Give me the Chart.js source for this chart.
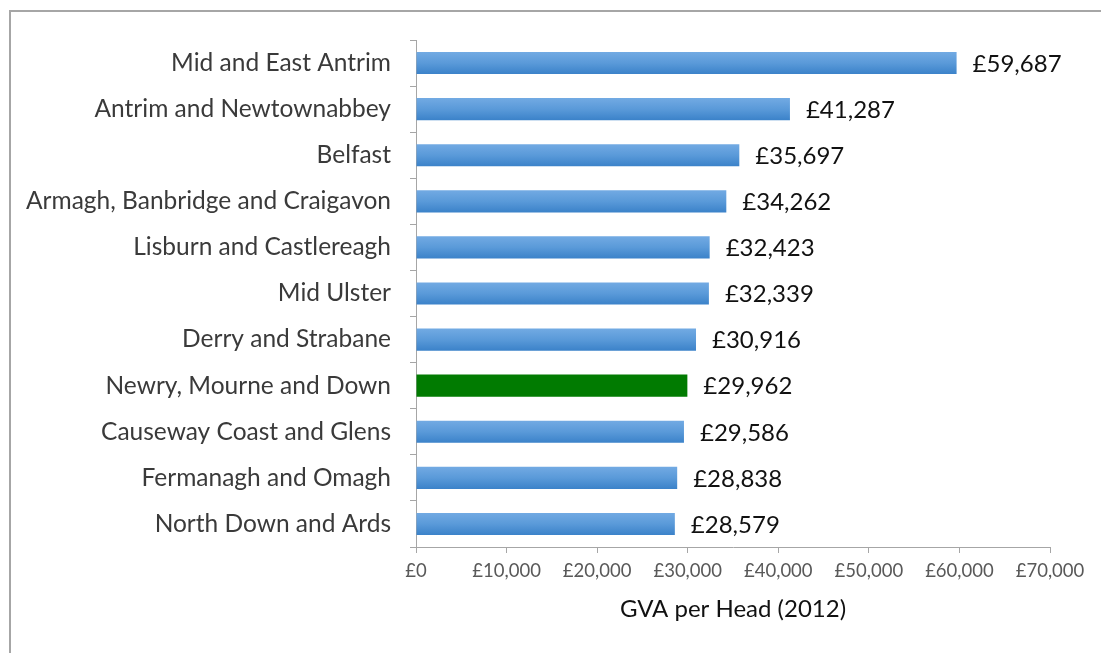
<!DOCTYPE html>
<html>
<head>
<meta charset="utf-8">
<script src="https://cdn.jsdelivr.net/npm/chart.js@4/dist/chart.umd.min.js"></script>
<style>
  html, body { margin: 0; padding: 0; background: #ffffff; }
  #wrap { position: relative; width: 1101px; height: 653px; }
</style>
</head>
<body>
<div id="wrap"><canvas id="chart" width="1101" height="653"></canvas></div>
<script>
// GVA per head by council area, 2012
const councils = [
  'Mid and East Antrim',
  'Antrim and Newtownabbey',
  'Belfast',
  'Armagh, Banbridge and Craigavon',
  'Lisburn and Castlereagh',
  'Mid Ulster',
  'Derry and Strabane',
  'Newry, Mourne and Down',
  'Causeway Coast and Glens',
  'Fermanagh and Omagh',
  'North Down and Ards'
];
const gvaPerHead = [59687, 41287, 35697, 34262, 32423, 32339, 30916, 29962, 29586, 28838, 28579];
const highlighted = 'Newry, Mourne and Down';
const xTickValues = [0, 10000, 20000, 30000, 40000, 50000, 60000, 70000];
const axisTitle = 'GVA per Head (2012)';

const FONT = 'Lato, "Open Sans", sans-serif';
const BAR_PCT = 0.48;

const money = v => '£' + Number(v).toLocaleString('en-GB');

// Frame around the chart
const framePlugin = {
  id: 'frame',
  beforeDraw(chart) {
    const ctx = chart.ctx;
    ctx.save();
    ctx.strokeStyle = '#a6a6a6';
    ctx.lineWidth = 2;
    ctx.beginPath();
    ctx.moveTo(10, chart.height);
    ctx.lineTo(10, 11);
    ctx.lineTo(chart.width, 11);
    ctx.stroke();
    ctx.restore();
  }
};

// Value labels at the end of each bar
const valueLabels = {
  id: 'valueLabels',
  afterDatasetsDraw(chart) {
    const ctx = chart.ctx;
    const meta = chart.getDatasetMeta(0);
    ctx.save();
    ctx.font = '24px ' + FONT;
    ctx.fillStyle = '#111111';
    ctx.textAlign = 'left';
    ctx.textBaseline = 'middle';
    meta.data.forEach((bar, i) => {
      ctx.fillText(money(gvaPerHead[i]), bar.x + 16, bar.y + 1);
    });
    ctx.restore();
  }
};

function barFill(context) {
  const chart = context.chart;
  if (councils[context.dataIndex] === highlighted) return '#017b01';
  const y = chart.scales && chart.scales.y;
  if (!chart.chartArea || !y) return '#4a8fd4';
  const band = y.height / councils.length;
  const cy = y.getPixelForValue(context.dataIndex);
  const half = band * BAR_PCT / 2;
  const g = chart.ctx.createLinearGradient(0, cy - half, 0, cy + half);
  g.addColorStop(0, '#72aae3');
  g.addColorStop(0.5, '#5a9ad9');
  g.addColorStop(1, '#3b82c9');
  return g;
}

new Chart(document.getElementById('chart'), {
  type: 'bar',
  data: {
    labels: councils,
    datasets: [{
      data: gvaPerHead,
      backgroundColor: barFill,
      borderWidth: 0,
      barPercentage: BAR_PCT,
      categoryPercentage: 1
    }]
  },
  options: {
    indexAxis: 'y',
    responsive: false,
    animation: false,
    layout: { padding: { top: 40, right: 51, bottom: 29, left: 0 } },
    plugins: {
      legend: { display: false },
      tooltip: { enabled: false }
    },
    scales: {
      x: {
        type: 'linear',
        min: 0,
        max: 70000,
        afterBuildTicks(scale) {
          scale.ticks = xTickValues.map(v => ({ value: v }));
        },
        grid: {
          drawOnChartArea: false,
          drawTicks: true,
          tickLength: 6,
          color: '#a6a6a6'
        },
        border: { display: true, color: '#a6a6a6', width: 1 },
        ticks: {
          callback: v => money(v),
          color: '#595959',
          font: { family: FONT, size: 18.5 },
          padding: 7,
          maxRotation: 0,
          autoSkip: false
        },
        title: {
          display: true,
          text: axisTitle,
          color: '#111111',
          font: { family: FONT, size: 24 },
          padding: { top: 12, bottom: 0 }
        },
        afterFit(scale) { scale.height = 77; }
      },
      y: {
        grid: {
          drawOnChartArea: false,
          drawTicks: true,
          tickLength: 6,
          offset: true,
          color: '#a6a6a6'
        },
        border: { display: true, color: '#a6a6a6', width: 1 },
        ticks: {
          color: '#3a3a3a',
          font: { family: FONT, size: 24.5 },
          padding: 19,
          autoSkip: false
        },
        afterFit(scale) { scale.width = 416; }
      }
    }
  },
  plugins: [framePlugin, valueLabels]
});
</script>
</body>
</html>
